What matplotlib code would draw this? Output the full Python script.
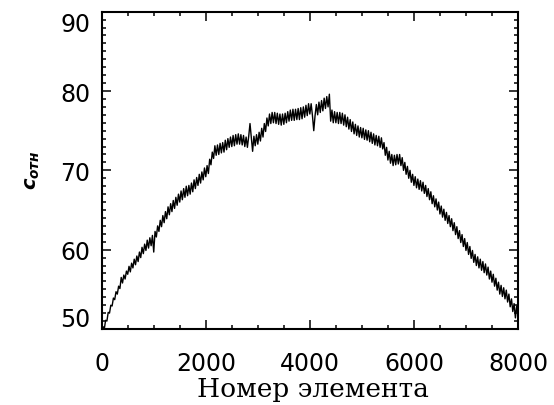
import matplotlib
matplotlib.use("Agg")
import matplotlib.pyplot as plt
from matplotlib.ticker import MultipleLocator

elements = list(range(0, 8001, 25))
c_values = [
    49.3, 50.3, 50.0, 51.1, 51.0, 52.1, 52.0, 53.0, 52.9, 53.9,
    53.7, 54.7, 54.4, 55.4, 55.1, 56.5, 55.8, 56.8, 56.3, 57.3,
    56.9, 57.9, 57.2, 58.3, 57.7, 58.8, 58.1, 59.2, 58.5, 59.7,
    59.0, 60.3, 59.5, 60.7, 59.9, 61.2, 60.2, 61.5, 60.5, 61.8,
    59.7, 62.3, 61.6, 63.0, 62.3, 63.7, 62.9, 64.3, 63.4, 64.8,
    63.9, 65.4, 64.4, 65.8, 64.8, 66.2, 65.2, 66.6, 65.6, 67.0,
    66.0, 67.4, 66.3, 67.7, 66.6, 68.0, 66.8, 68.1, 67.0, 68.4,
    67.3, 68.8, 67.7, 69.1, 68.1, 69.5, 68.4, 69.8, 68.8, 70.3,
    69.2, 70.6, 69.6, 71.4, 70.7, 72.3, 71.5, 73.1, 71.9, 73.2,
    72.0, 73.4, 72.2, 73.5, 72.3, 73.8, 72.6, 74.0, 72.9, 74.2,
    73.0, 74.4, 73.1, 74.5, 73.3, 74.6, 73.3, 74.5, 73.2, 74.4,
    73.0, 74.2, 72.9, 74.3, 75.9, 74.1, 72.4, 74.3, 73.1, 74.5,
    73.3, 74.8, 73.7, 75.3, 74.2, 75.9, 74.9, 76.6, 75.6, 77.1,
    75.9, 77.3, 76.0, 77.3, 75.9, 77.2, 75.8, 77.1, 75.7, 77.1,
    75.8, 77.2, 76.0, 77.4, 76.2, 77.6, 76.3, 77.7, 76.3, 77.7,
    76.4, 77.8, 76.4, 77.9, 76.5, 78.0, 76.7, 78.2, 76.9, 78.4,
    77.1, 78.4, 76.9, 75.0, 76.9, 78.3, 77.0, 78.6, 77.3, 78.8,
    77.5, 79.1, 77.8, 79.3, 78.0, 79.6, 76.2, 77.6, 76.0, 77.4,
    76.0, 77.3, 75.9, 77.3, 75.9, 77.2, 75.7, 77.0, 75.5, 76.7,
    75.2, 76.4, 74.9, 76.1, 74.6, 75.8, 74.4, 75.6, 74.2, 75.4,
    74.1, 75.3, 73.9, 75.1, 73.8, 75.0, 73.6, 74.8, 73.4, 74.6,
    73.2, 74.4, 73.1, 74.3, 72.9, 74.1, 72.7, 73.5, 71.9, 72.9,
    71.3, 72.4, 70.9, 72.0, 70.6, 71.9, 70.7, 72.0, 70.8, 72.0,
    70.6, 71.6, 70.0, 71.0, 69.5, 70.5, 69.0, 70.0, 68.5, 69.5,
    68.1, 69.2, 67.8, 68.9, 67.6, 68.7, 67.4, 68.5, 67.1, 68.1,
    66.7, 67.7, 66.3, 67.3, 65.8, 66.8, 65.4, 66.4, 65.0, 66.0,
    64.5, 65.5, 64.1, 65.1, 63.7, 64.7, 63.3, 64.3, 62.9, 63.9,
    62.4, 63.4, 61.9, 62.9, 61.4, 62.4, 60.9, 61.9, 60.4, 61.4,
    59.9, 60.9, 59.4, 60.4, 58.9, 59.9, 58.4, 59.4, 58.0, 59.1,
    57.7, 58.8, 57.4, 58.5, 57.1, 58.2, 56.8, 57.8, 56.3, 57.3,
    55.9, 56.9, 55.4, 56.4, 54.9, 55.9, 54.4, 55.5, 54.1, 55.2,
    53.8, 54.9, 53.4, 54.4, 52.8, 53.8, 52.2, 53.2, 51.4, 52.9,
    51.8,
]
x_ticks = [0, 2000, 4000, 6000, 8000]
y_ticks = [50, 60, 70, 80, 90]
x_label = "Номер элемента"
y_label = r"$c_{отн}$"

plt.rcParams["mathtext.fontset"] = "custom"
plt.rcParams["mathtext.it"] = "DejaVu Sans:italic:bold"
plt.rcParams["mathtext.rm"] = "DejaVu Sans:bold"

W, H = 554, 406
fig = plt.figure(figsize=(W / 100, H / 100), dpi=100)
ax = fig.add_axes([101.7 / W, 1 - 330 / H, (518 - 101.7) / W, (330 - 12.7) / H])

ax.plot(elements, c_values, color="black", linewidth=1.0)

ax.set_xlim(0, 8000)
ax.set_ylim(50, 90)
ax.set_xticks(x_ticks)
ax.set_xticklabels([str(v) for v in x_ticks])
ax.xaxis.set_minor_locator(MultipleLocator(500))
ax.set_yticks(y_ticks)
ax.set_yticklabels(["", "60", "70", "80", ""])
ax.yaxis.set_minor_locator(MultipleLocator(1))

for s in ax.spines.values():
    s.set_linewidth(1.5)
ax.tick_params(which="both", direction="in", top=True, right=True, width=1.1)
ax.tick_params(which="major", length=6.5)
ax.tick_params(which="minor", length=3.2)
ax.tick_params(axis="x", which="major", labelsize=17, pad=16)
ax.tick_params(axis="y", which="major", labelsize=17, pad=8.4)

# end labels shifted inside the axis range (as in the reference)
ax.annotate(str(y_ticks[-1]), xy=(0, y_ticks[-1]), xycoords=("axes fraction", "data"),
            xytext=(-8.4, 0), textcoords="offset points", ha="right", va="top", fontsize=17)
ax.annotate(str(y_ticks[0]), xy=(0, y_ticks[0]), xycoords=("axes fraction", "data"),
            xytext=(-8.4, 2), textcoords="offset points", ha="right", va="baseline", fontsize=17)

fig.text(313 / W, 1 - 397 / H, x_label, ha="center", va="baseline",
         fontsize=19, family="DejaVu Serif")
fig.text(32 / W, 1 - 170 / H, y_label, ha="center", va="center",
         rotation=90, fontsize=14)

fig.savefig("out.png", dpi=100)
